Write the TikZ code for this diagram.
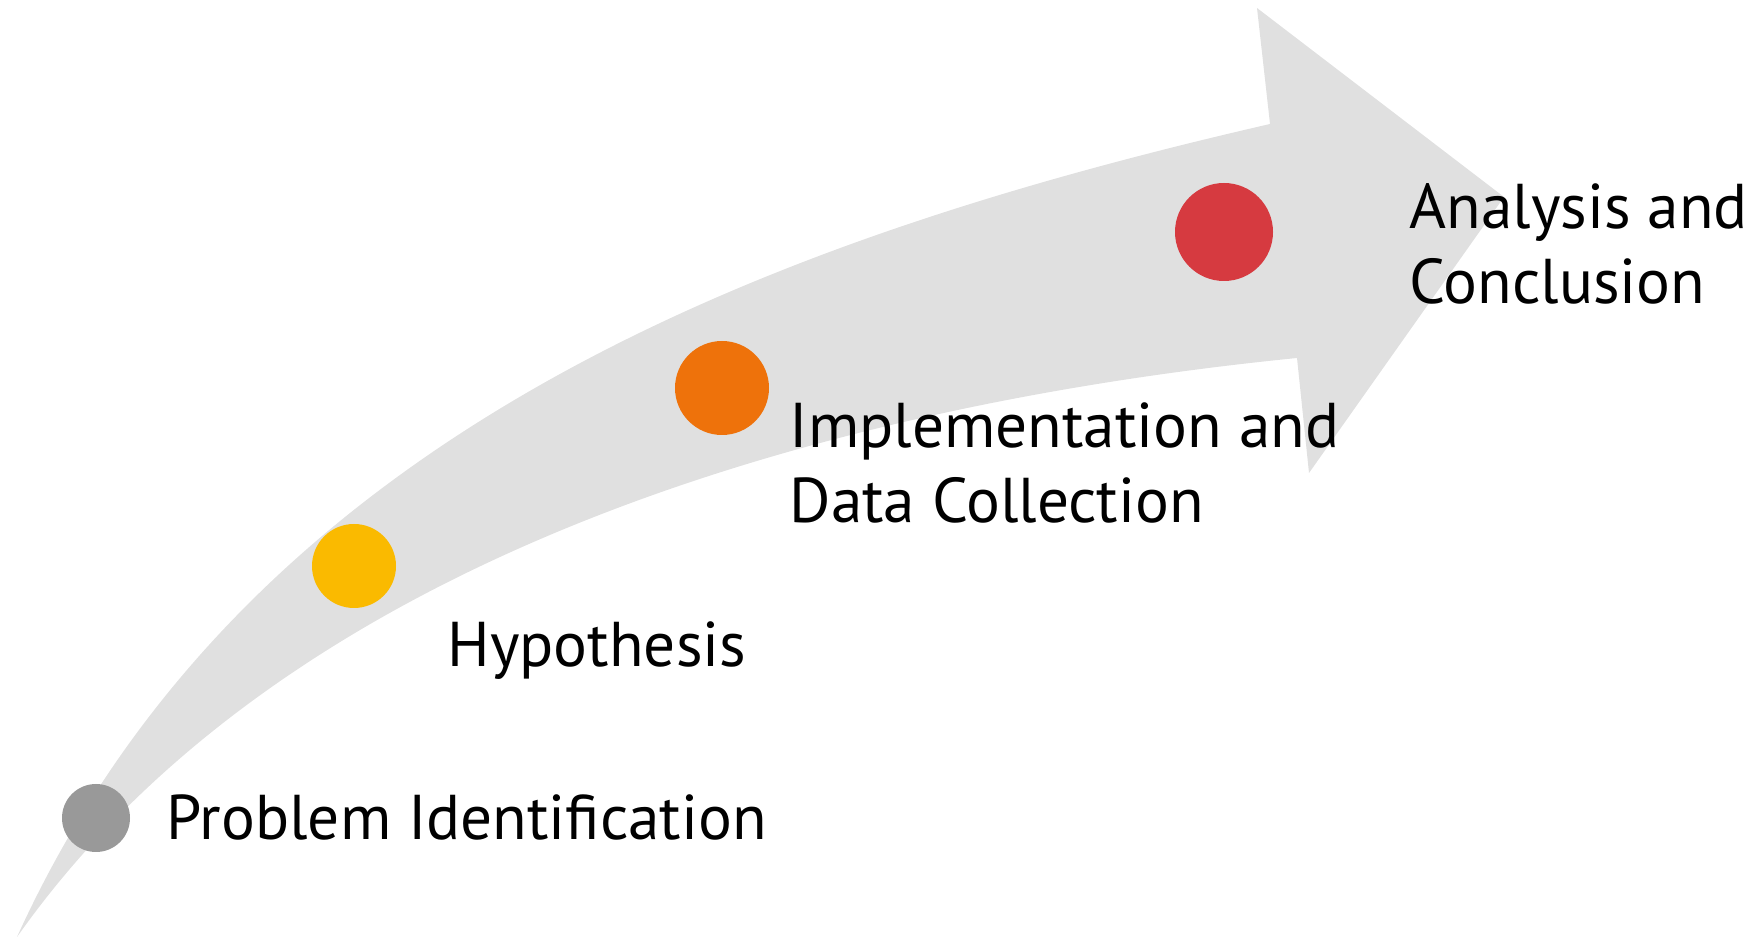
\documentclass[tikz,border=0pt]{standalone}
\usepackage{fontspec}
\setmainfont{PT Sans}
\definecolor{arrowgray}{HTML}{E0E0E0}
\definecolor{stepgray}{HTML}{999999}
\definecolor{stepyellow}{HTML}{FABA00}
\definecolor{steporange}{HTML}{EE720B}
\definecolor{stepred}{HTML}{D63A40}
\begin{document}
\begin{tikzpicture}[inner sep=0pt,
    stepdot/.style={circle, minimum size=#1},
    steptext/.style={anchor=base west, align=left, font=\fontsize{18}{21.6}\selectfont}]
  \useasboundingbox (0,0) rectangle (17.52,9.38);

  % curved arrow
  \fill[arrowgray] (0.17,0.01) .. controls (2.47,5.07) and (7.70,6.99) .. (12.70,8.14)
    -- (12.57,9.30) -- (15.04,7.41) -- (13.09,4.65) -- (12.97,5.80)
    .. controls (7.97,5.30) and (2.77,3.70) .. cycle;

  \node[stepdot=6.8mm, fill=stepgray] (p1) at (0.96,1.20) {};
  \node[stepdot=8.4mm, fill=stepyellow] (p2) at (3.54,3.72) {};
  \node[stepdot=9.4mm, fill=steporange] (p3) at (7.22,5.50) {};
  \node[stepdot=9.8mm, fill=stepred] (p4) at (12.24,7.06) {};

  % base of a two-line text is its last line
  \node[steptext] (t1) at (1.66,0.98) {Problem Identification};
  \node[steptext] (t2) at (4.47,2.71) {Hypothesis};
  \node[steptext] (t3) at (7.89,4.15) {Implementation and\\Data Collection};
  \node[steptext] (t4) at (14.09,6.34) {Analysis and\\Conclusion};
\end{tikzpicture}
\end{document}
